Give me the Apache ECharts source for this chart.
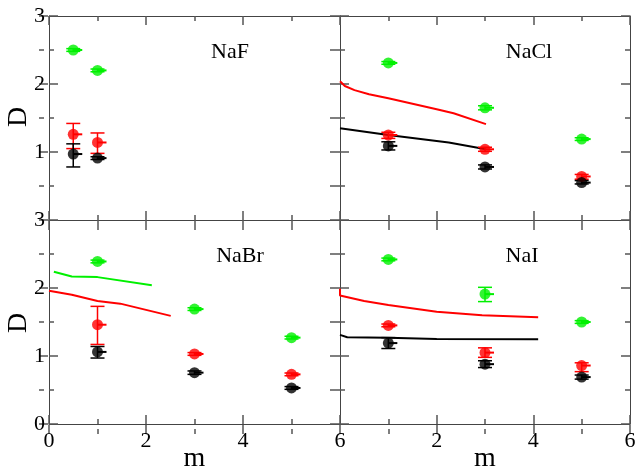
<!DOCTYPE html>
<html>
<head>
<meta charset="utf-8">
<script src="https://cdn.jsdelivr.net/npm/echarts@6/dist/echarts.min.js"></script>
<style>html,body{margin:0;padding:0;background:#fff}#c{width:644px;height:475px}</style>
</head>
<body>
<div id="c"></div>
<script>
// ---- data ----
const panelNames = ['NaF', 'NaCl', 'NaBr', 'NaI'];
const xAxisTitle = 'm';
const yAxisTitle = 'D';
const xTickLabels = [0, 2, 4, 6];
const yTickLabels = [0, 1, 2, 3];

// NaF
const nafX = [0.5, 1];
const nafGreen = [2.50, 2.20];
const nafGreenLo = [2.48, 2.18];
const nafGreenHi = [2.52, 2.22];
const nafRed = [1.26, 1.14];
const nafRedLo = [1.05, 0.98];
const nafRedHi = [1.42, 1.28];
const nafBlack = [0.97, 0.91];
const nafBlackLo = [0.78, 0.89];
const nafBlackHi = [1.12, 0.93];

// NaCl
const naclX = [1, 3, 5];
const naclGreen = [2.31, 1.65, 1.19];
const naclGreenLo = [2.29, 1.62, 1.17];
const naclGreenHi = [2.33, 1.68, 1.21];
const naclRed = [1.25, 1.04, 0.64];
const naclRedLo = [1.20, 1.01, 0.60];
const naclRedHi = [1.29, 1.07, 0.67];
const naclBlack = [1.09, 0.78, 0.55];
const naclBlackLo = [1.03, 0.75, 0.53];
const naclBlackHi = [1.15, 0.81, 0.58];
const naclRedLineX = [0, 0.1, 0.3, 0.6, 1, 2, 2.35, 3.02];
const naclRedLineY = [2.04, 1.97, 1.91, 1.85, 1.79, 1.63, 1.57, 1.41];
const naclBlackLineX = [0, 1, 2.25, 3.02];
const naclBlackLineY = [1.35, 1.25, 1.14, 1.04];

// NaBr
const nabrX = [1, 3, 5];
const nabrGreen = [2.39, 1.69, 1.27];
const nabrGreenLo = [2.37, 1.67, 1.25];
const nabrGreenHi = [2.41, 1.71, 1.29];
const nabrRed = [1.46, 1.03, 0.73];
const nabrRedLo = [1.17, 1.01, 0.71];
const nabrRedHi = [1.73, 1.05, 0.75];
const nabrBlack = [1.06, 0.755, 0.53];
const nabrBlackLo = [0.97, 0.73, 0.51];
const nabrBlackHi = [1.14, 0.78, 0.55];
const nabrGreenLineX = [0.1, 0.47, 1, 2.12];
const nabrGreenLineY = [2.24, 2.17, 2.16, 2.04];
const nabrRedLineX = [0, 0.47, 1, 1.47, 2.51];
const nabrRedLineY = [1.96, 1.90, 1.81, 1.77, 1.59];

// NaI
const naiX = [1, 3, 5];
const naiGreen = [2.42, 1.91, 1.50];
const naiGreenLo = [2.40, 1.80, 1.48];
const naiGreenHi = [2.44, 2.01, 1.52];
const naiRed = [1.45, 1.05, 0.86];
const naiRedLo = [1.43, 0.98, 0.77];
const naiRedHi = [1.47, 1.12, 0.90];
const naiBlack = [1.19, 0.88, 0.69];
const naiBlackLo = [1.11, 0.83, 0.66];
const naiBlackHi = [1.27, 0.93, 0.72];
const naiRedLineX = [0, 0, 0.5, 1, 2, 2.94, 4.1];
const naiRedLineY = [1.99, 1.89, 1.81, 1.75, 1.65, 1.60, 1.57];
const naiBlackLineX = [0, 0, 0.15, 1, 2, 4.1];
const naiBlackLineY = [1.31, 1.29, 1.275, 1.27, 1.25, 1.245];

// ---- build ----
const GREEN = '#00f000', RED = '#ff0000', BLACK = '#000000';
const FONT = "'Liberation Serif','Times New Roman',serif";
const AX = '#444';
const TK = '#555';

const points = [
  {x: nafX, sets: [[nafGreen, nafGreenLo, nafGreenHi, GREEN], [nafRed, nafRedLo, nafRedHi, RED], [nafBlack, nafBlackLo, nafBlackHi, BLACK]],
   lines: []},
  {x: naclX, sets: [[naclGreen, naclGreenLo, naclGreenHi, GREEN], [naclRed, naclRedLo, naclRedHi, RED], [naclBlack, naclBlackLo, naclBlackHi, BLACK]],
   lines: [[naclRedLineX, naclRedLineY, RED], [naclBlackLineX, naclBlackLineY, BLACK]]},
  {x: nabrX, sets: [[nabrGreen, nabrGreenLo, nabrGreenHi, GREEN], [nabrRed, nabrRedLo, nabrRedHi, RED], [nabrBlack, nabrBlackLo, nabrBlackHi, BLACK]],
   lines: [[nabrGreenLineX, nabrGreenLineY, GREEN], [nabrRedLineX, nabrRedLineY, RED]]},
  {x: naiX, sets: [[naiGreen, naiGreenLo, naiGreenHi, GREEN], [naiRed, naiRedLo, naiRedHi, RED], [naiBlack, naiBlackLo, naiBlackHi, BLACK]],
   lines: [[naiRedLineX, naiRedLineY, RED], [naiBlackLineX, naiBlackLineY, BLACK]]}
];

const panels = [
  {left: 49, top: 16, width: 291, height: 204},
  {left: 340, top: 16, width: 290, height: 204},
  {left: 49, top: 220, width: 291, height: 204},
  {left: 340, top: 220, width: 290, height: 204}
];

const grids = panels.slice();
const xAxes = [], yAxes = [], series = [];
const mkTick = (inside) => ({show: true, inside: inside, length: 9, lineStyle: {color: TK, width: 1.5}});
const mkMinor = () => ({show: true, splitNumber: 2, length: 5, lineStyle: {color: TK, width: 1.5}});
const hiddenX = (gi) => ({gridIndex: gi, type: 'value', min: 0, max: 6, show: false});
const hiddenY = (gi) => ({gridIndex: gi, type: 'value', min: 0, max: 3, show: false});

panels.forEach((g, i) => {
  const bottomRow = i >= 2, leftCol = i % 2 === 0;
  const xi = xAxes.length, yi = yAxes.length;
  // labelled axes (bottom / left)
  xAxes.push({
    gridIndex: i, type: 'value', min: 0, max: 6, interval: 2,
    axisLine: {show: true, onZero: false, lineStyle: {color: AX}},
    axisTick: mkTick(true), minorTick: mkMinor(), splitLine: {show: false},
    axisLabel: {show: bottomRow, fontFamily: FONT, fontSize: 22, color: '#000', margin: 6,
      formatter: v => (xTickLabels.includes(v) && !(v === 0 && !leftCol)) ? String(v) : ''}
  });
  yAxes.push({
    gridIndex: i, type: 'value', min: 0, max: 3, interval: 1,
    axisLine: {show: true, onZero: false, lineStyle: {color: AX}},
    axisTick: mkTick(true), minorTick: mkMinor(), splitLine: {show: false},
    axisLabel: {show: leftCol, fontFamily: FONT, fontSize: 22, color: '#000', margin: 4,
      formatter: v => (yTickLabels.includes(v) && !(v === 0 && !bottomRow)) ? String(v) : ''}
  });
  // mirrored frame axes (top / right)
  xAxes.push({
    gridIndex: i, type: 'value', min: 0, max: 6, interval: 2, position: 'top',
    axisLine: {show: true, onZero: false, lineStyle: {color: AX}},
    axisTick: mkTick(true), minorTick: mkMinor(), splitLine: {show: false}, axisLabel: {show: false}
  });
  yAxes.push({
    gridIndex: i, type: 'value', min: 0, max: 3, interval: 1, position: 'right',
    axisLine: {show: true, onZero: false, lineStyle: {color: AX}},
    axisTick: mkTick(true), minorTick: mkMinor(), splitLine: {show: false}, axisLabel: {show: false}
  });

  const p = points[i];
  p.lines.forEach(([lx, ly, col]) => {
    series.push({type: 'line', xAxisIndex: xi, yAxisIndex: yi, showSymbol: false, symbol: 'none',
      data: lx.map((v, k) => [v, ly[k]]), lineStyle: {color: col, width: 2}, z: 2, silent: true});
  });
  p.sets.forEach(([vals, lo, hi, col]) => {
    series.push({
      type: 'custom', xAxisIndex: xi, yAxisIndex: yi, z: 3, silent: true,
      data: p.x.map((v, k) => [v, vals[k], lo[k], hi[k]]),
      encode: {x: 0, y: 1},
      renderItem: (params, api) => {
        const c = api.coord([api.value(0), api.value(1)]);
        const a = api.coord([api.value(0), api.value(2)]);
        const b = api.coord([api.value(0), api.value(3)]);
        const hw = 7;
        const st = {stroke: col, lineWidth: 1.5};
        return {type: 'group', children: [
          {type: 'line', shape: {x1: a[0], y1: a[1], x2: b[0], y2: b[1]}, style: st},
          {type: 'line', shape: {x1: a[0] - hw, y1: a[1], x2: a[0] + hw, y2: a[1]}, style: st},
          {type: 'line', shape: {x1: b[0] - hw, y1: b[1], x2: b[0] + hw, y2: b[1]}, style: st},
          {type: 'line', shape: {x1: c[0], y1: c[1], x2: c[0] + 9, y2: c[1]}, style: {stroke: col, lineWidth: 2}}
        ]};
      }
    });
    series.push({type: 'scatter', xAxisIndex: xi, yAxisIndex: yi, symbol: 'circle', symbolSize: 11,
      data: p.x.map((v, k) => [v, vals[k]]), itemStyle: {color: col}, z: 4, silent: true});
  });
});

// helper grids so the ticks on each panel's left and bottom edges point inward
panels.forEach((g) => {
  // strip just left of the panel: its right axis sits on the panel's left edge
  const gl = grids.length;
  grids.push({left: g.left - 10, top: g.top, width: 10, height: g.height});
  xAxes.push(hiddenX(gl));
  yAxes.push({
    gridIndex: gl, type: 'value', min: 0, max: 3, interval: 1, position: 'right',
    axisLine: {show: false}, axisTick: mkTick(false),
    minorTick: mkMinor(), splitLine: {show: false}, axisLabel: {show: false}
  });
  // strip just below the panel: its top axis sits on the panel's bottom edge
  const gb = grids.length;
  grids.push({left: g.left, top: g.top + g.height, width: g.width, height: 10});
  yAxes.push(hiddenY(gb));
  xAxes.push({
    gridIndex: gb, type: 'value', min: 0, max: 6, interval: 2, position: 'top',
    axisLine: {show: false}, axisTick: mkTick(false),
    minorTick: mkMinor(), splitLine: {show: false}, axisLabel: {show: false}
  });
});

const titlePos = [[230, 52], [529, 52], [240, 256], [522, 256]];
const graphic = panelNames.map((n, i) => ({
  type: 'text', x: titlePos[i][0], y: titlePos[i][1], z: 10,
  style: {text: n, font: "22px 'Liberation Serif','Times New Roman',serif", fill: '#000',
    textAlign: 'center', textVerticalAlign: 'middle'}
}));
[[194.5, 458.5], [485, 458.5]].forEach(([x, y]) => graphic.push({
  type: 'text', x: x, y: y, z: 10,
  style: {text: xAxisTitle, font: "28px 'Liberation Serif','Times New Roman',serif", fill: '#000',
    textAlign: 'center', textVerticalAlign: 'middle'}
}));
[[18.5, 117], [18.5, 323]].forEach(([x, y]) => graphic.push({
  type: 'text', x: x, y: y, rotation: Math.PI / 2, z: 10,
  style: {text: yAxisTitle, font: "28px 'Liberation Serif','Times New Roman',serif", fill: '#000',
    textAlign: 'center', textVerticalAlign: 'middle'}
}));

const chart = echarts.init(document.getElementById('c'), null, {renderer: 'canvas'});
chart.setOption({
  animation: false, backgroundColor: '#fff',
  grid: grids, xAxis: xAxes, yAxis: yAxes, series: series, graphic: graphic
});
</script>
</body>
</html>
